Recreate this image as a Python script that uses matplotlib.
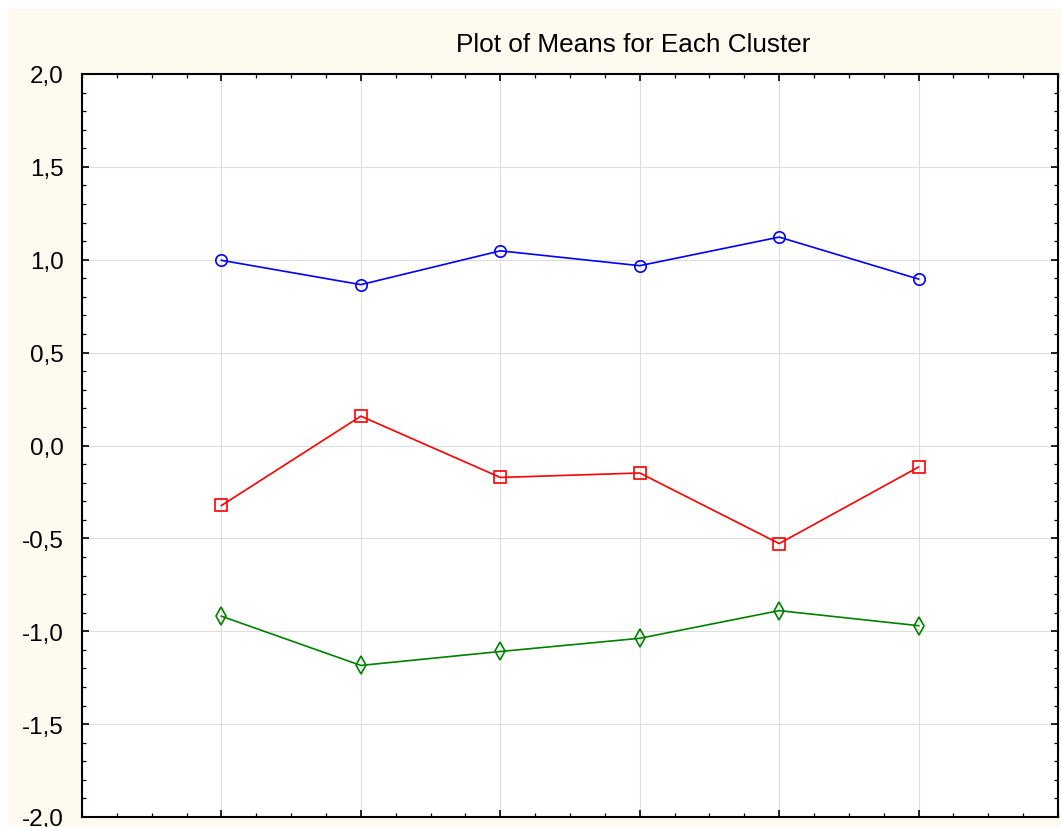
import matplotlib.pyplot as plt
import matplotlib.patches as mpatches
from matplotlib.ticker import MultipleLocator, FuncFormatter

# variable positions along the x axis (labels are cut off in the source)
positions = [1, 2, 3, 4, 5, 6]

cluster_1 = [0.997, 0.866, 1.048, 0.968, 1.122, 0.896]
cluster_2 = [-0.323, 0.158, -0.172, -0.148, -0.528, -0.116]
cluster_3 = [-0.919, -1.184, -1.109, -1.038, -0.889, -0.970]

plt.rcParams["font.family"] = ["Liberation Sans", "DejaVu Sans"]

W, H, DPI = 1061, 828, 100
fig = plt.figure(figsize=(W / DPI, H / DPI), dpi=DPI, facecolor="white")

# cream panel behind the plot (thin white strip top and left)
fig.patches.append(mpatches.Rectangle(
    (7 / W, 0), 1 - 7 / W, 1 - 10 / H,
    transform=fig.transFigure, facecolor="#fffaef", edgecolor="none", zorder=-5,
))

ax = fig.add_axes([82 / W, 10 / H, (1058 - 82) / W, (818 - 75) / H])
ax.set_zorder(2)
ax.set_facecolor("white")

ax.plot(positions, cluster_1, color="#0000ff", lw=1.2, marker="o", ms=8.2,
        mfc="none", mec="#0000ff", mew=1.2, zorder=3)
ax.plot(positions, cluster_2, color="#ff0000", lw=1.2, marker="s", ms=8.0,
        mfc="none", mec="#ff0000", mew=1.2, zorder=3)
ax.plot(positions, cluster_3, color="#008000", lw=1.2, marker="d", ms=9.0,
        mfc="none", mec="#008000", mew=1.2, zorder=3)

ax.set_xlim(0, 7)
ax.set_ylim(-2.0, 2.0)
ax.set_xticks(positions)
ax.xaxis.set_minor_locator(MultipleLocator(0.25))
ax.yaxis.set_major_locator(MultipleLocator(0.5))
ax.yaxis.set_minor_locator(MultipleLocator(0.1))
ax.yaxis.set_major_formatter(FuncFormatter(lambda v, _: f"{v:.1f}".replace(".", ",")))
ax.tick_params(axis="x", labelbottom=False)

ax.tick_params(which="both", direction="in", top=True, right=True, color="black")
ax.tick_params(which="major", length=5, width=1.2)
ax.tick_params(which="minor", length=3, width=0.9)
ax.tick_params(axis="y", labelsize=17.5, pad=13, labelcolor="black")

ax.grid(True, which="major", color="#dedede", lw=0.8, zorder=0)
ax.set_axisbelow(True)

for spine in ax.spines.values():
    spine.set_linewidth(1.5)
    spine.set_color("black")

fig.text(633 / W, 1 - 52.5 / H, "Plot of Means for Each Cluster",
         ha="center", va="baseline", fontsize=18.8, color="black")

fig.savefig("out.png", dpi=DPI, facecolor=fig.get_facecolor())
